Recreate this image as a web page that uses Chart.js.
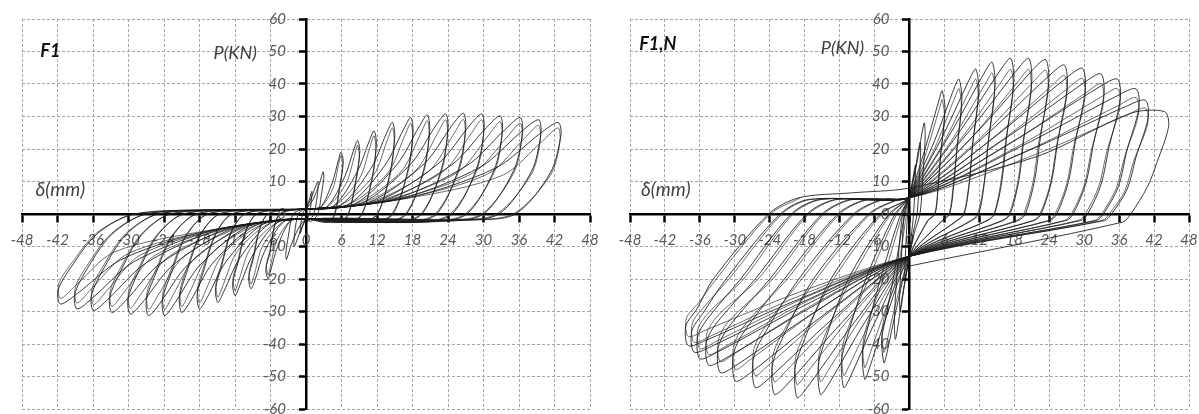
<!DOCTYPE html>
<html>
<head>
<meta charset="utf-8">
<title>F1 / F1,N hysteresis</title>
<script src="https://cdn.jsdelivr.net/npm/chart.js@4.4.1/dist/chart.umd.min.js"></script>
<style>
  html, body { margin: 0; padding: 0; background: #fff; overflow: hidden; }
  body { width: 1199px; height: 414px; position: relative; }
  .panel { position: absolute; top: 0; height: 430px; }
  #wrap-f1 { left: 0; width: 600px; }
  #wrap-f1n { left: 600px; width: 599px; }
</style>
</head>
<body>
<div class="panel" id="wrap-f1"><canvas id="chartF1"></canvas></div>
<div class="panel" id="wrap-f1n"><canvas id="chartF1N"></canvas></div>

<script>
// ─── Data ────────────────────────────────────────────────────────────────────
const xTicks = [-48, -42, -36, -30, -24, -18, -12, -6, 0, 6, 12, 18, 24, 30, 36, 42, 48];
const yTicks = [-60, -50, -40, -30, -20, -10, 0, 10, 20, 30, 40, 50, 60];

// F1 first cycles : displacement (mm) and load (kN), one line per half cycle
const f1Disp = [
  0, 0.5, 1.0, 0.9, 0.6, 0.2,   0, -0.5, -1.0, -0.9, -0.6, -0.2,
  0, 0.9, 2.0, 1.9, 1.3, 0.5,   0, -0.9, -2.0, -1.9, -1.3, -0.5,
  0, 1.2, 2.3, 2.9, 3.0, 2.6, 2.0, 0.8,   0, -1.3, -2.6, -3.3, -3.4, -3.0, -2.2, -0.8,
  0, 2.4, 4.4, 5.5, 5.9, 6.3, 5.7, 4.9, 3.8,
  0, -2.6, -4.8, -6.0, -6.4, -6.8, -6.1, -5.4, -4.5, -2.2,
  0, 3.5, 6.5, 8.1, 8.7, 9.1, 8.4, 7.2, 5.7,
  0, -3.7, -7.0, -8.6, -9.3, -9.7, -8.9, -7.9, -6.5, -3.3,
  0, 4.6, 8.6, 10.7, 11.5, 11.9, 11.2, 9.5, 7.5,
  0, -4.8, -9.0, -11.2, -12, -12.4, -11.5, -10.2, -8.4, -4.2,
  0, 5.8, 11.0, 13.6, 14.6, 15.0, 14.2, 12.1, 9.5,
  0, -6.0, -11.2, -13.9, -14.9, -15.3, -14.3, -12.7, -10.4, -5.2,
  0, 7.1, 13.3, 16.5, 17.7, 18.1, 17.2, 14.7, 11.5,
  0, -7.2, -13.5, -16.7, -18, -18.4, -17.3, -15.3, -12.6, -6.3,
  0, 8.2, 15.4, 19.1, 20.5, 20.9, 19.9, 17.0, 13.3,
  0, -8.4, -15.8, -19.5, -21, -21.4, -20.2, -17.9, -14.7, -7.4,
  0, 9.4, 17.7, 21.9, 23.6, 24.0, 22.9, 19.6, 15.3,
  0, -9.6, -17.9, -22.2, -23.9, -24.3, -22.9, -20.3, -16.7, -8.4,
  0, 10.6, 20.0, 24.7, 26.6, 27.0, 25.8, 22.1, 17.3,
  0, -10.6, -20.0, -24.7, -26.6, -27.0, -25.5, -22.6, -18.6, -9.3,
  0, 11.9, 22.3, 27.6, 29.7, 30.1, 28.8, 24.7, 19.3,
  0, -11.9, -22.3, -27.6, -29.7, -30.1, -28.5, -25.2, -20.8, -10.4,
  0, 13.1, 24.6, 30.5, 32.8, 33.2, 31.8, 27.2, 21.3,
  0, -13.1, -24.6, -30.5, -32.8, -33.2, -31.5, -27.9, -23.0, -11.5,
  0, 14.5, 27.2, 33.7, 36.2, 36.6, 35.1, 30.0, 23.5,
  0, -14.4, -26.9, -33.4, -35.9, -36.3, -34.5, -30.5, -25.1, -12.6,
  0, 15.7, 29.5, 36.5, 39.3, 39.7, 38.1, 32.6, 25.5,
  0, -15.5, -29.0, -36.0, -38.7, -39.1, -37.2, -32.9, -27.1, -13.5,
  0, 17.0, 32.0, 39.6, 42.6, 43.1, 41.3, 35.4, 27.7,
  0, -16.6, -31.1, -38.6, -41.5, -41.9, -39.8, -35.3, -29.1, -14.5, 0
];
const f1Load = [
  1.5, 4, 7, 4, 0, -1.5,   -1.5, -3.5, -6, -3.5, 0, 1.3,
  1.5, 5, 10, 5.5, 0, -2,   -1.5, -5, -10, -5.5, 0, 1.3,
  1.5, 4.5, 9.5, 13, 11, 6, 0, -2.3,   -1.5, -4.5, -10, -14, -12, -7, 0, 1.3,
  1.5, 2.0, 9.5, 16.7, 19, 16.2, 8.6, 0, -2.6,
  -1.5, -2.1, -10, -17.6, -20, -17, -12, -4.4, 0, 1.3,
  1.5, 2.2, 11.3, 19.9, 22.6, 19.2, 10.2, 0, -2.6,
  -1.5, -2.3, -11.5, -20.2, -23, -19.6, -13.8, -5.1, 0, 1.3,
  1.5, 2.4, 12.8, 22.5, 25.6, 21.8, 11.5, 0, -2.6,
  -1.5, -2.6, -12.6, -22.1, -25.1, -21.3, -15.1, -5.5, 0, 1.3,
  1.5, 2.7, 14.1, 24.8, 28.2, 24, 12.7, 0, -2.6,
  -1.5, -2.8, -13.6, -23.9, -27.2, -23.1, -16.3, -6.0, 0, 1.3,
  1.5, 2.9, 14.9, 26.1, 29.7, 25.2, 13.4, 0, -2.6,
  -1.5, -3.1, -14.6, -25.7, -29.2, -24.8, -17.5, -6.4, 0, 1.3,
  1.5, 3.1, 15.3, 26.8, 30.5, 25.9, 13.7, 0, -2.6,
  -1.5, -3.4, -15.2, -26.7, -30.3, -25.8, -18.2, -6.7, 0, 1.3,
  1.5, 3.4, 15.4, 27.1, 30.8, 26.2, 13.9, 0, -2.6,
  -1.5, -3.7, -15.7, -27.5, -31.3, -26.6, -18.8, -6.9, 0, 1.3,
  1.5, 3.6, 15.5, 27.3, 31, 26.4, 14.0, 0, -2.6,
  -1.5, -3.9, -15.7, -27.5, -31.3, -26.6, -18.8, -6.9, 0, 1.3,
  1.5, 3.9, 15.4, 27.1, 30.8, 26.2, 13.9, 0, -2.6,
  -1.5, -4.2, -15.4, -27.1, -30.8, -26.2, -18.5, -6.8, 0, 1.3,
  1.5, 4.1, 15.1, 26.6, 30.2, 25.7, 13.6, 0, -2.4,
  -1.5, -4.5, -15.2, -26.7, -30.3, -25.8, -18.2, -6.7, 0, 1.3,
  1.5, 4.4, 14.9, 26.1, 29.7, 25.2, 13.4, 0, -2.2,
  -1.5, -4.7, -14.9, -26.1, -29.7, -25.2, -17.8, -6.5, 0, 1.3,
  1.5, 4.6, 14.5, 25.5, 29, 24.7, 13.1, 0, -2.0,
  -1.5, -5.0, -14.6, -25.7, -29.2, -24.8, -17.5, -6.4, 0, 1.3,
  1.5, 4.9, 14.1, 24.8, 28.2, 24.5, 12.7, 0, -1.8,
  -1.5, -5.2, -13.9, -24.4, -27.7, -23.5, -16.6, -6.1, 0, 1.3, 1.5
];

// F1 repeated cycles at the same amplitudes (slightly lower loads)
const f1DispRep = [
  0, 2.4, 4.6, 5.5, 5.9, 6.2, 5.7, 4.8, 3.8,
  0, -2.6, -5.0, -6.0, -6.4, -6.7, -6.1, -5.4, -4.4, -2.2,
  0, 3.5, 6.8, 8.2, 8.7, 9.0, 8.4, 7.1, 5.6,
  0, -3.7, -7.3, -8.7, -9.3, -9.6, -8.9, -7.9, -6.4, -3.3,
  0, 4.6, 9.0, 10.8, 11.5, 11.8, 11.2, 9.4, 7.4,
  0, -4.8, -9.4, -11.3, -12, -12.3, -11.5, -10.2, -8.3, -4.2,
  0, 5.8, 11.4, 13.7, 14.6, 14.9, 14.2, 12.0, 9.3,
  0, -6.0, -11.6, -14.0, -14.9, -15.2, -14.3, -12.7, -10.3, -5.2,
  0, 7.1, 13.8, 16.6, 17.7, 18.0, 17.2, 14.5, 11.3,
  0, -7.2, -14.0, -16.9, -18, -18.3, -17.3, -15.3, -12.4, -6.3,
  0, 8.2, 16.0, 19.3, 20.5, 20.8, 19.9, 16.8, 13.1,
  0, -8.4, -16.4, -19.7, -21, -21.3, -20.2, -17.9, -14.5, -7.4,
  0, 9.4, 18.4, 22.2, 23.6, 23.9, 22.9, 19.4, 15.1,
  0, -9.6, -18.6, -22.5, -23.9, -24.2, -22.9, -20.3, -16.5, -8.4,
  0, 10.6, 20.7, 25.0, 26.6, 26.9, 25.8, 21.8, 17.0,
  0, -10.6, -20.7, -25.0, -26.6, -26.9, -25.5, -22.6, -18.4, -9.3,
  0, 11.9, 23.2, 27.9, 29.7, 30.0, 28.8, 24.4, 19.0,
  0, -11.9, -23.2, -27.9, -29.7, -30.0, -28.5, -25.2, -20.6, -10.4,
  0, 13.1, 25.6, 30.8, 32.8, 33.1, 31.8, 26.9, 21.0,
  0, -13.1, -25.6, -30.8, -32.8, -33.1, -31.5, -27.9, -22.8, -11.5,
  0, 14.5, 28.2, 34.0, 36.2, 36.5, 35.1, 29.7, 23.2,
  0, -14.4, -28.0, -33.7, -35.9, -36.2, -34.5, -30.5, -24.9, -12.6,
  0, 15.7, 30.7, 36.9, 39.3, 39.6, 38.1, 32.2, 25.2,
  0, -15.5, -30.2, -36.4, -38.7, -39.0, -37.2, -32.9, -26.9, -13.5,
  0, 17.0, 33.2, 40.0, 42.6, 42.9, 41.3, 35.0, 27.4,
  0, -16.6, -32.4, -39.0, -41.5, -41.8, -39.8, -35.3, -28.8, -14.5
];
const f1LoadRep = [
  1.5, 1.9, 8.1, 15.2, 17.9, 14.9, 8.1, 0, -2.4,
  -1.5, -2.0, -8.5, -16, -18.8, -15.6, -11.3, -4.1, 0, 1.2,
  1.5, 2.1, 9.5, 18.0, 21.2, 17.6, 9.5, 0, -2.4,
  -1.5, -2.2, -9.7, -18.4, -21.6, -17.9, -13, -4.8, 0, 1.2,
  1.5, 2.3, 10.8, 20.5, 24.1, 20, 10.8, 0, -2.4,
  -1.5, -2.5, -10.6, -20.1, -23.6, -19.6, -14.2, -5.2, 0, 1.2,
  1.5, 2.6, 11.9, 22.5, 26.5, 22, 11.9, 0, -2.4,
  -1.5, -2.7, -11.5, -21.8, -25.6, -21.2, -15.4, -5.6, 0, 1.2,
  1.5, 2.8, 12.6, 23.7, 27.9, 23.2, 12.6, 0, -2.4,
  -1.5, -3.0, -12.3, -23.3, -27.4, -22.7, -16.4, -6, 0, 1.2,
  1.5, 3.0, 12.9, 24.4, 28.7, 23.8, 12.9, 0, -2.4,
  -1.5, -3.3, -12.8, -24.2, -28.5, -23.7, -17.1, -6.3, 0, 1.2,
  1.5, 3.3, 13.1, 24.7, 29, 24.1, 13.1, 0, -2.4,
  -1.5, -3.6, -13.2, -25, -29.4, -24.4, -17.6, -6.5, 0, 1.2,
  1.5, 3.5, 13.1, 24.7, 29.1, 24.2, 13.1, 0, -2.4,
  -1.5, -3.8, -13.2, -25, -29.4, -24.4, -17.6, -6.5, 0, 1.2,
  1.5, 3.8, 13.1, 24.7, 29, 24.1, 13.1, 0, -2.4,
  -1.5, -4.1, -13.1, -24.7, -29, -24.1, -17.4, -6.4, 0, 1.2,
  1.5, 4.0, 12.8, 24.1, 28.4, 23.6, 12.8, 0, -2.2,
  -1.5, -4.4, -12.8, -24.2, -28.5, -23.7, -17.1, -6.3, 0, 1.2,
  1.5, 4.3, 12.6, 23.7, 27.9, 23.2, 12.6, 0, -2.0,
  -1.5, -4.6, -12.6, -23.7, -27.9, -23.2, -16.7, -6.1, 0, 1.2,
  1.5, 4.5, 12.3, 23.2, 27.3, 22.7, 12.3, 0, -1.8,
  -1.5, -4.9, -12.3, -23.3, -27.4, -22.7, -16.4, -6, 0, 1.2,
  1.5, 4.8, 11.9, 22.5, 26.5, 22, 11.9, 0, -1.6,
  -1.5, -5.1, -11.7, -22.1, -26, -21.6, -15.6, -5.7, 0, 1.2
];

// F1,N first cycles : displacement (mm) and load (kN), one line per half cycle
const f1nDisp = [
  0, 0.5, 1.0, 1.0, 0.7, 0.3,   0, -0.4, -0.8, -0.8, -0.5, -0.2,
  0, 0.9, 1.8, 1.9, 1.6, 1.3, 0.6,   0, -0.8, -1.6, -1.7, -1.4, -0.9, -0.4,
  0, 1.3, 2.5, 2.7, 2.3, 1.8, 0.8,   0, -1.2, -2.4, -2.6, -2.2, -1.2, -0.5,
  0, 2.8, 5.2, 5.6, 6.1, 5.4, 4.9, 4.4, 3.2,
  0, -2.2, -4.0, -4.4, -4.8, -4.2, -2.8, -0.8,
  0, 4.3, 7.8, 8.5, 9.0, 8.2, 7.6, 6.9, 5.7,
  0, -3.9, -7.1, -7.7, -8.1, -7.4, -5.0, -1.5,
  0, 5.7, 10.5, 11.4, 11.9, 10.9, 10.3, 9.4, 8.2,
  0, -5.7, -10.4, -11.3, -11.7, -10.8, -7.5, -2.5,
  0, 7.1, 13.1, 14.2, 14.7, 13.6, 12.9, 11.9, 10.7,
  0, -7.7, -14.1, -15.3, -15.7, -14.7, -10.5, -3.5,
  0, 8.7, 16.0, 17.4, 17.9, 16.7, 15.9, 14.6, 13.4,
  0, -9.7, -17.8, -19.3, -19.7, -18.5, -13.5, -5,
  0, 10.3, 18.9, 20.5, 21.0, 19.7, 18.8, 17.3, 16.1,
  0, -11.6, -21.3, -23.2, -23.6, -22.3, -16.5, -7, -2,
  0, 11.7, 21.5, 23.4, 23.9, 22.5, 21.5, 19.9, 18.7,
  0, -13.3, -24.4, -26.5, -26.9, -25.4, -19, -9.6, -4.6,
  0, 13.3, 24.5, 26.6, 27.1, 25.5, 24.4, 22.6, 21.4,
  0, -15.0, -27.5, -29.9, -30.3, -28.7, -21.5, -12.3, -7.3,
  0, 14.9, 27.3, 29.7, 30.2, 28.5, 27.3, 25.3, 24.1,
  0, -16.3, -29.9, -32.5, -32.9, -31.2, -24, -15, -10,
  0, 16.5, 30.3, 32.9, 33.4, 31.6, 30.3, 28.1, 26.9,
  0, -17.3, -31.7, -34.5, -34.9, -33.1, -26.5, -17.6, -12.6,
  0, 17.9, 32.8, 35.7, 36.2, 34.3, 32.9, 30.6, 29.4,
  0, -18, -33.1, -36, -36.4, -34.6, -29, -20.3, -15.3,
  0, 19.5, 35.8, 38.9, 39.4, 37.3, 35.9, 33.3, 32.1,
  0, -18.5, -34.0, -37, -37.4, -35.5, -31.5, -22.2, -17.2,
  0, 20.3, 37.3, 40.5, 41.0, 38.9, 37.4, 34.7, 33.5,
  0, -19, -35, -38, -38.4, -36.5, -33.7, -24.2, -19, -10,
  0, 21.9, 38, 43.8, 44.5, 42.5, 40.9, 38, 36.6, 0
];
const f1nLoad = [
  5, 10, 15, 12, 0, -7,   -13, -16.5, -20, -17, -5, 2,
  5, 13, 22, 19, 8, 0, -6,   -13, -21, -30, -26, -14, 0, 3.5,
  5, 16, 28, 24, 12, 0, -6,   -13, -25, -38.5, -33, -20, 0, 3.5,
  5, 20.8, 35.9, 37.9, 32.2, 19, 8.3, 0, -2,
  -13, -28.7, -43.8, -45.8, -38.9, -33, -20, 0,
  5, 22.5, 39.3, 41.5, 35.3, 20.8, 9.1, 0, -2,
  -13, -31.2, -48.6, -50.9, -43.3, -36.6, -20, 0,
  5, 24.0, 42.2, 44.6, 37.9, 22.3, 9.8, 0, -2,
  -13, -32.4, -51.0, -53.4, -45.4, -38.4, -20, 0,
  5, 25.0, 44.2, 46.7, 39.7, 23.4, 10.3, 0, -2,
  -13, -33.4, -53.0, -55.5, -47.2, -40, -20, 0,
  5, 25.6, 45.3, 47.9, 40.7, 24, 10.5, 0, -2,
  -13, -33.9, -53.9, -56.5, -48, -40.7, -20, 0,
  5, 25.6, 45.3, 47.9, 40.7, 24, 10.5, 0, -2,
  -13, -33.4, -53.0, -55.5, -47.2, -40, -20, 0, 4.5,
  5, 25.4, 45.0, 47.5, 40.4, 23.8, 10.5, 0, -2,
  -13, -32.4, -51.0, -53.4, -45.4, -38.4, -20, 0, 4.5,
  5, 24.6, 43.4, 45.8, 38.9, 22.9, 10.1, 0, -2,
  -13, -31.4, -49.1, -51.4, -43.7, -37, -20, 0, 4.5,
  5, 24.1, 42.4, 44.8, 38.1, 22.4, 9.9, 0, -2,
  -13, -30.2, -46.7, -48.8, -41.5, -35.1, -20, 0, 4.5,
  5, 23.3, 40.8, 43.1, 36.6, 21.6, 9.5, 0, -2,
  -13, -29.1, -44.5, -46.5, -39.5, -33.5, -20, 0, 4.5,
  5, 22.5, 39.3, 41.5, 35.3, 20.8, 9.1, 0, -2,
  -13, -28.1, -42.6, -44.5, -37.8, -32, -20, 0, 4.5,
  5, 21.1, 36.5, 38.5, 32.7, 19.3, 8.5, 0, -2,
  -13, -27.2, -40.7, -42.5, -36.1, -30.6, -20, 0, 4.5,
  5, 19.4, 33.2, 35, 29.8, 17.5, 7.7, 0, -2,
  -13, -26.2, -38.9, -40.5, -34.4, -29.2, -20, 0, 5, 6.5,
  8, 17.7, 31, 31.5, 27, 15.9, 8.5, 0, -2.5, -16
];

// F1,N repeated cycles at the same amplitudes (slightly lower loads)
const f1nDispRep = [
  0, 2.8, 5.2, 5.6, 6.0, 5.3, 4.9, 4.3, 3.1,
  0, -2.2, -4.0, -4.4, -4.7, -4.2, -2.3, -0.5,
  0, 4.3, 7.8, 8.5, 8.9, 8.1, 7.5, 6.8, 5.6,
  0, -3.9, -7.1, -7.7, -8.0, -7.3, -4.5, -1.2,
  0, 5.7, 10.5, 11.4, 11.8, 10.8, 10.2, 9.3, 8.1,
  0, -5.7, -10.4, -11.3, -11.6, -10.7, -7, -2.2,
  0, 7.1, 13.1, 14.2, 14.6, 13.5, 12.8, 11.7, 10.5,
  0, -7.7, -14.1, -15.3, -15.6, -14.5, -10, -3.2,
  0, 8.7, 16.0, 17.4, 17.8, 16.5, 15.7, 14.5, 13.3,
  0, -9.7, -17.8, -19.3, -19.6, -18.3, -13, -4.7,
  0, 10.3, 18.9, 20.5, 20.9, 19.5, 18.6, 17.1, 15.9,
  0, -11.6, -21.3, -23.2, -23.5, -22.0, -16, -6.7, -1.8,
  0, 11.7, 21.5, 23.4, 23.8, 22.2, 21.2, 19.6, 18.4,
  0, -13.3, -24.4, -26.5, -26.8, -25.2, -18.5, -9.3, -4.3,
  0, 13.3, 24.5, 26.6, 27.0, 25.3, 24.2, 22.4, 21.2,
  0, -15.0, -27.5, -29.9, -30.2, -28.4, -21, -12, -7,
  0, 14.9, 27.3, 29.7, 30.1, 28.2, 27.0, 25.0, 23.8,
  0, -16.3, -29.9, -32.5, -32.8, -30.9, -23.5, -14.7, -9.7,
  0, 16.5, 30.3, 32.9, 33.3, 31.3, 30.0, 27.8, 26.6,
  0, -17.3, -31.7, -34.5, -34.8, -32.8, -26, -17.3, -12.3,
  0, 17.9, 32.8, 35.7, 36.1, 33.9, 32.5, 30.2, 29.0,
  0, -18, -33.1, -36, -36.3, -34.2, -28.5, -20, -15,
  0, 19.5, 35.8, 38.9, 39.3, 37.0, 35.5, 33.0, 31.8,
  0, -18.5, -34.0, -37, -37.3, -35.2, -31, -21.9, -16.9,
  0, 20.3, 37.3, 40.5, 40.9, 38.5, 37.0, 34.3, 33.1,
  0, -19, -35, -38, -38.3, -36.1, -33.2, -23.9, -18.7
];
const f1nLoadRep = [
  5, 18.6, 32.8, 35.2, 29.9, 17.6, 7.7, 0, -2,
  -13, -26.3, -40.2, -42.6, -36.2, -30.7, -20, 0,
  5, 20.1, 35.9, 38.6, 32.8, 19.3, 8.5, 0, -2,
  -13, -28.4, -44.6, -47.3, -40.2, -34.1, -20, 0,
  5, 21.4, 38.6, 41.5, 35.3, 20.8, 9.1, 0, -2,
  -13, -29.5, -46.8, -49.7, -42.2, -35.8, -20, 0,
  5, 22.3, 40.3, 43.4, 36.9, 21.7, 9.5, 0, -2,
  -13, -30.4, -48.5, -51.6, -43.9, -37.2, -20, 0,
  5, 22.8, 41.3, 44.5, 37.8, 22.3, 9.8, 0, -2,
  -13, -30.8, -49.3, -52.5, -44.6, -37.8, -20, 0,
  5, 22.8, 41.3, 44.5, 37.8, 22.3, 9.8, 0, -2,
  -13, -30.4, -48.5, -51.6, -43.9, -37.2, -20, 0, 4.5,
  5, 22.6, 41.1, 44.2, 37.6, 22.1, 9.7, 0, -2,
  -13, -29.5, -46.8, -49.7, -42.2, -35.8, -20, 0, 4.5,
  5, 21.9, 39.6, 42.6, 36.2, 21.3, 9.4, 0, -2,
  -13, -28.7, -45.0, -47.8, -40.6, -34.4, -20, 0, 4.5,
  5, 21.5, 38.8, 41.7, 35.4, 20.9, 9.2, 0, -2,
  -13, -27.6, -42.8, -45.4, -38.6, -32.7, -20, 0, 4.5,
  5, 20.8, 37.3, 40.1, 34.1, 20.1, 8.8, 0, -2,
  -13, -26.6, -40.8, -43.2, -36.7, -31.1, -20, 0, 4.5,
  5, 20.1, 35.9, 38.6, 32.8, 19.3, 8.5, 0, -2,
  -13, -25.8, -39.1, -41.4, -35.2, -29.8, -20, 0, 4.5,
  5, 18.9, 33.3, 35.8, 30.4, 17.9, 7.9, 0, -2,
  -13, -24.9, -37.4, -39.5, -33.6, -28.4, -20, 0, 4.5,
  5, 17.4, 30.4, 32.6, 27.7, 16.3, 7.2, 0, -2,
  -13, -24.1, -35.7, -37.7, -32, -27.1, -20, 0, 5
];

// ─── Helpers ──────────────────────────────────────────────────────────────────
const LABEL_FONT = "italic 15px Lato, 'Open Sans', sans-serif";
const GRID_COLOR = "#a6a6a6";

function toPoints(xs, ys) {
  return xs.map((x, i) => ({ x: x, y: ys[i] }));
}

function loopSet(xs, ys, color) {
  return {
    data: toPoints(xs, ys),
    showLine: true,
    borderColor: color,
    borderWidth: 1,
    pointRadius: 0,
    tension: 0.3
  };
}

// tick labels sit next to the crossing axes, under the curves
const axisLabels = {
  id: "axisLabels",
  beforeDatasetsDraw(chart) {
    const { ctx } = chart;
    const sx = chart.scales.x, sy = chart.scales.y;
    const x0 = sx.getPixelForValue(0), y0 = sy.getPixelForValue(0);
    ctx.save();
    ctx.font = LABEL_FONT;
    ctx.fillStyle = "#595959";
    ctx.textBaseline = "middle";
    ctx.textAlign = "center";
    xTicks.forEach(v => ctx.fillText(String(v), sx.getPixelForValue(v), y0 + 26));
    ctx.textAlign = "right";
    yTicks.forEach(v => ctx.fillText(String(v), x0 - 20, sy.getPixelForValue(v)));
    ctx.restore();
  }
};

// panel captions (F1, P(KN), δ(mm)) placed at data positions
const panelText = {
  id: "panelText",
  afterDraw(chart, args, opts) {
    const { ctx } = chart;
    const sx = chart.scales.x, sy = chart.scales.y;
    ctx.save();
    (opts.items || []).forEach(t => {
      ctx.font = t.font;
      ctx.fillStyle = t.color;
      ctx.textAlign = t.align;
      ctx.textBaseline = "middle";
      ctx.fillText(t.text, sx.getPixelForValue(t.x), sy.getPixelForValue(t.y));
    });
    ctx.restore();
  }
};

function buildChart(canvasId, sets, pad, captions) {
  const ctx = document.getElementById(canvasId).getContext("2d");
  return new Chart(ctx, {
    type: "scatter",
    data: { datasets: sets },
    options: {
      responsive: true,
      maintainAspectRatio: false,
      animation: false,
      layout: { padding: pad, autoPadding: false },
      plugins: {
        legend: { display: false },
        tooltip: { enabled: false },
        panelText: { items: captions }
      },
      scales: {
        x: {
          type: "linear",
          min: -48, max: 48,
          position: { y: 0 },
          afterBuildTicks: s => { s.ticks = xTicks.map(v => ({ value: v })); },
          grid: { color: GRID_COLOR, lineWidth: 1, tickLength: 7, tickColor: "#000", tickWidth: 2.5 },
          border: { display: true, color: "#000", width: 2.5, dash: [3, 2] },
          ticks: { display: false }
        },
        y: {
          type: "linear",
          min: -60, max: 60,
          position: { x: 0 },
          afterBuildTicks: s => { s.ticks = yTicks.map(v => ({ value: v })); },
          grid: { color: GRID_COLOR, lineWidth: 1, tickLength: 6, tickColor: "#000", tickWidth: 2.5 },
          border: { display: true, color: "#000", width: 2.5, dash: [3, 2] },
          ticks: { display: false }
        }
      }
    },
    plugins: [axisLabels, panelText]
  });
}

const capFont = "italic 18px Lato, 'Open Sans', sans-serif";
const boldFont = "italic bold 18px Lato, 'Open Sans', sans-serif";
const deltaFont = "italic 19px Lato, 'Open Sans', sans-serif";

buildChart("chartF1",
  [loopSet(f1Disp, f1Load, "rgba(25,25,25,0.85)"), loopSet(f1DispRep, f1LoadRep, "rgba(60,60,60,0.75)")],
  { left: 22, right: 10, top: 19, bottom: 21 },
  [
    { text: "F1", x: -44.9, y: 50, align: "left", font: boldFont, color: "#111" },
    { text: "P(KN)", x: -8.3, y: 49.5, align: "right", font: capFont, color: "#404040" },
    { text: "δ(mm)", x: -45.7, y: 7.4, align: "left", font: deltaFont, color: "#404040" }
  ]);

buildChart("chartF1N",
  [loopSet(f1nDisp, f1nLoad, "rgba(25,25,25,0.85)"), loopSet(f1nDispRep, f1nLoadRep, "rgba(60,60,60,0.75)")],
  { left: 30, right: 10, top: 19, bottom: 21 },
  [
    { text: "F1,N", x: -46.4, y: 52.3, align: "left", font: boldFont, color: "#111" },
    { text: "P(KN)", x: -7.8, y: 51, align: "right", font: capFont, color: "#404040" },
    { text: "δ(mm)", x: -46.1, y: 7.5, align: "left", font: deltaFont, color: "#404040" }
  ]);
</script>
</body>
</html>
